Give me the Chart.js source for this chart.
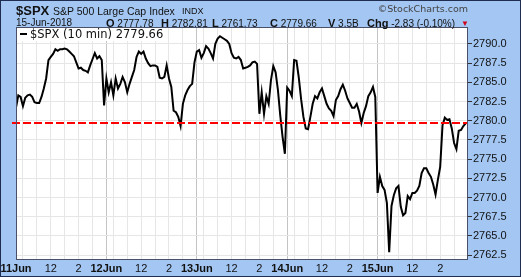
<!DOCTYPE html>
<html>
<head>
<meta charset="utf-8">
<script src="https://cdn.jsdelivr.net/npm/chart.js"></script>
<style>
  html, body { margin: 0; padding: 0; background: #a3c6f2; }
  #wrap { position: relative; width: 521px; height: 277px; overflow: hidden; font-family: "Liberation Sans", Arial, sans-serif; color: #111; }
  #wrap canvas { position: absolute; left: 0; top: 0; }
  .t { position: absolute; white-space: nowrap; line-height: 1; }
  #sym { left: 16px; top: 4px; font-size: 13px; font-weight: bold; }
  #name { left: 53px; top: 6px; font-size: 10.5px; }
  #exch { left: 182px; top: 7px; font-size: 9px; }
  #copy { right: 53px; top: 4px; font-family: "DejaVu Sans", sans-serif; font-size: 9.5px; color: #444; }
  #date { left: 16px; top: 18px; font-size: 10px; }
  .q { top: 18px; font-size: 10px; }
  .q b { font-size: 11px; }
  #dn { left: 461px; top: 20px; color: #d0021b; font-size: 8px; }
  #legend { left: 17px; top: 28px; height: 13px; padding-right: 3px; background: #fff; font-family: "DejaVu Sans", sans-serif; font-size: 11.5px; line-height: 13px; }
  #legend i { display: inline-block; width: 7px; height: 2px; background: #000; vertical-align: middle; margin: 0 3px 2px 3px; }
</style>
</head>
<body>
<div id="wrap">
  <canvas id="spxChart" width="521" height="277"></canvas>
  <div class="t" id="sym">$SPX</div>
  <div class="t" id="name">S&amp;P 500 Large Cap Index</div>
  <div class="t" id="exch">INDX</div>
  <div class="t" id="copy">©StockCharts.com</div>
  <div class="t" id="date">15-Jun-2018</div>
  <div class="t q" style="left:106px"><b>O</b> 2777.78</div>
  <div class="t q" style="left:161px"><b>H</b> 2782.81</div>
  <div class="t q" style="left:212px"><b>L</b> 2761.73</div>
  <div class="t q" style="left:270px"><b>C</b> 2779.66</div>
  <div class="t q" style="left:328px"><b>V</b> 3.5B</div>
  <div class="t q" style="left:367px"><b>Chg</b> -2.83 (-0.10%)</div>
  <div class="t" id="dn">▼</div>
  <div class="t" id="legend"><i></i>$SPX (10 min) 2779.66</div>
</div>
<script>
// 10 minute closes, 39 bars per session
const day11Jun = [2781.7, 2783.3, 2783.1, 2781.9, 2783.0, 2783.3, 2783.4, 2783.1, 2782.4, 2782.3,
    2782.3, 2783.1, 2784.2, 2785.5, 2787.9, 2788.3, 2788.7, 2789.3, 2789.1, 2789.3,
    2789.3, 2789.4, 2789.3, 2789.0, 2788.7, 2788.4, 2787.6, 2786.8, 2786.9, 2786.6,
    2786.5, 2786.3, 2787.2, 2788.0, 2788.8, 2788.1, 2788.4, 2787.9, 2782.0];
const day12Jun = [2785.5, 2783.7, 2785.0, 2783.3, 2785.5, 2784.2, 2784.8, 2785.7, 2785.0, 2783.7,
    2784.8, 2785.7, 2786.6, 2788.3, 2789.0, 2788.7, 2789.0, 2788.1, 2787.5, 2787.1,
    2787.2, 2787.2, 2787.0, 2785.6, 2785.5, 2785.7, 2787.2, 2785.5, 2784.4, 2781.3,
    2781.1, 2780.5, 2779.3, 2782.2, 2783.3, 2784.0, 2784.5, 2784.8, 2787.6];
const day13Jun = [2789.0, 2789.2, 2788.2, 2788.8, 2789.7, 2789.4, 2788.8, 2788.1, 2790.0, 2790.7,
    2791.0, 2790.8, 2790.6, 2790.4, 2790.0, 2788.8, 2788.2, 2788.1, 2788.3, 2787.9,
    2786.8, 2786.9, 2787.0, 2787.2, 2787.6, 2787.7, 2787.4, 2780.9, 2783.7, 2780.9,
    2783.2, 2782.2, 2785.3, 2787.1, 2786.3, 2784.0, 2780.7, 2777.9, 2775.7];
const day14Jun = [2784.3, 2783.9, 2783.2, 2787.9, 2787.8, 2785.6, 2782.8, 2780.5, 2779.0, 2778.9,
    2780.5, 2782.2, 2783.2, 2782.9, 2783.7, 2784.2, 2783.2, 2782.2, 2781.6, 2781.3,
    2780.6, 2782.7, 2783.2, 2784.1, 2784.7, 2783.9, 2782.9, 2782.3, 2781.7, 2781.7,
    2782.2, 2781.2, 2779.7, 2781.0, 2781.9, 2783.2, 2783.7, 2784.4, 2783.1];
const day15Jun = [2770.6, 2772.7, 2771.5, 2771.0, 2769.3, 2762.9, 2768.9, 2770.3, 2771.2, 2771.5,
    2768.8, 2767.7, 2768.0, 2770.2, 2769.8, 2770.6, 2770.6, 2770.9, 2771.5, 2773.2,
    2773.8, 2773.8, 2773.2, 2772.7, 2771.7, 2770.4, 2772.3, 2774.0, 2779.4, 2780.4,
    2780.1, 2780.2, 2779.0, 2777.1, 2776.3, 2778.7, 2778.8, 2779.3, 2779.66];

const dayLabels = ['11Jun', '12Jun', '13Jun', '14Jun', '15Jun'];
// bar offsets inside a session: 9:30, 10, 11, 12, 13, 14, 15
const hourBars = [0, 3, 9, 15, 21, 27, 33];
const hourLabels = ['', '', '', '12', '', '2', ''];
const yTicks = [2762.5, 2765.0, 2767.5, 2770.0, 2772.5, 2775.0, 2777.5, 2780.0, 2782.5, 2785.0, 2787.5, 2790.0];
const lastClose = 2779.66;

const BARS = 39;
const sessions = [day11Jun, day12Jun, day13Jun, day14Jun, day15Jun];
const points = sessions.flatMap((vals, d) => vals.map((v, i) => ({ x: d * BARS + i, y: v })));

const xTicks = [];
dayLabels.forEach((day, d) => {
    hourBars.forEach((b, k) => {
        xTicks.push({ value: d * BARS + b, major: k === 0, label: k === 0 ? day : hourLabels[k] });
    });
});

const chartFrame = {
    id: 'chartFrame',
    beforeDraw(chart) {
        const { ctx, chartArea: a } = chart;
        ctx.save();
        ctx.fillStyle = '#a3c6f2';
        ctx.fillRect(0, 0, chart.width, chart.height);
        ctx.fillStyle = '#ffffff';
        ctx.fillRect(a.left, a.top, a.right - a.left, a.bottom - a.top);
        ctx.restore();
    },
    afterDatasetsDraw(chart) {
        const { ctx, chartArea: a } = chart;
        const y = Math.round(chart.scales.y.getPixelForValue(lastClose));
        ctx.save();
        ctx.strokeStyle = '#ff0000';
        ctx.lineWidth = 2;
        ctx.setLineDash([8, 3]);
        ctx.beginPath();
        ctx.moveTo(a.left - 4, y);
        ctx.lineTo(a.right, y);
        ctx.stroke();
        ctx.restore();
    },
    afterDraw(chart) {
        const { ctx, chartArea: a } = chart;
        ctx.save();
        ctx.strokeStyle = '#4a5068';
        ctx.lineWidth = 1;
        ctx.strokeRect(a.left + 0.5, a.top + 0.5, a.right - a.left - 1, a.bottom - a.top);
        ctx.strokeStyle = '#1f2d50';
        ctx.strokeRect(0.5, 0.5, chart.width - 1, chart.height - 1);
        ctx.restore();
    }
};

new Chart(document.getElementById('spxChart'), {
    type: 'line',
    data: {
        datasets: [{
            label: '$SPX (10 min)',
            data: points,
            borderColor: '#000000',
            borderWidth: 2,
            pointRadius: 0,
            tension: 0
        }]
    },
    options: {
        responsive: false,
        animation: false,
        devicePixelRatio: 1,
        layout: { padding: { left: 16, top: 27, right: 0, bottom: 0 } },
        plugins: {
            legend: { display: false },
            tooltip: { enabled: false }
        },
        scales: {
            x: {
                type: 'linear',
                min: 0,
                max: BARS * sessions.length,
                afterBuildTicks: s => { s.ticks = xTicks.map(t => ({ value: t.value, major: t.major })); },
                afterFit: s => { s.height = 18; s.paddingLeft = 0; s.paddingRight = 0; },
                ticks: {
                    autoSkip: false,
                    maxRotation: 0,
                    padding: 3,
                    color: '#111',
                    font: c => ({ family: '"Liberation Sans", Arial, sans-serif', size: 11, weight: c.tick && c.tick.major ? 'bold' : 'normal' }),
                    callback: (v, i) => xTicks[i] ? xTicks[i].label : ''
                },
                grid: {
                    color: c => c.tick && c.tick.major ? '#c4c4c4' : '#e6e6e6',
                    drawTicks: false
                },
                border: { display: false }
            },
            y: {
                position: 'right',
                min: 2762,
                max: 2792.2,
                afterBuildTicks: s => { s.ticks = yTicks.map(v => ({ value: v })); },
                afterFit: s => { s.width = 53; },
                ticks: {
                    autoSkip: false,
                    padding: 1,
                    color: '#111',
                    font: { family: '"Liberation Sans", Arial, sans-serif', size: 11 },
                    callback: v => v.toFixed(1)
                },
                grid: {
                    color: '#e6e6e6',
                    tickLength: 4,
                    tickColor: '#333'
                },
                border: { display: false }
            }
        }
    },
    plugins: [chartFrame]
});
</script>
</body>
</html>
